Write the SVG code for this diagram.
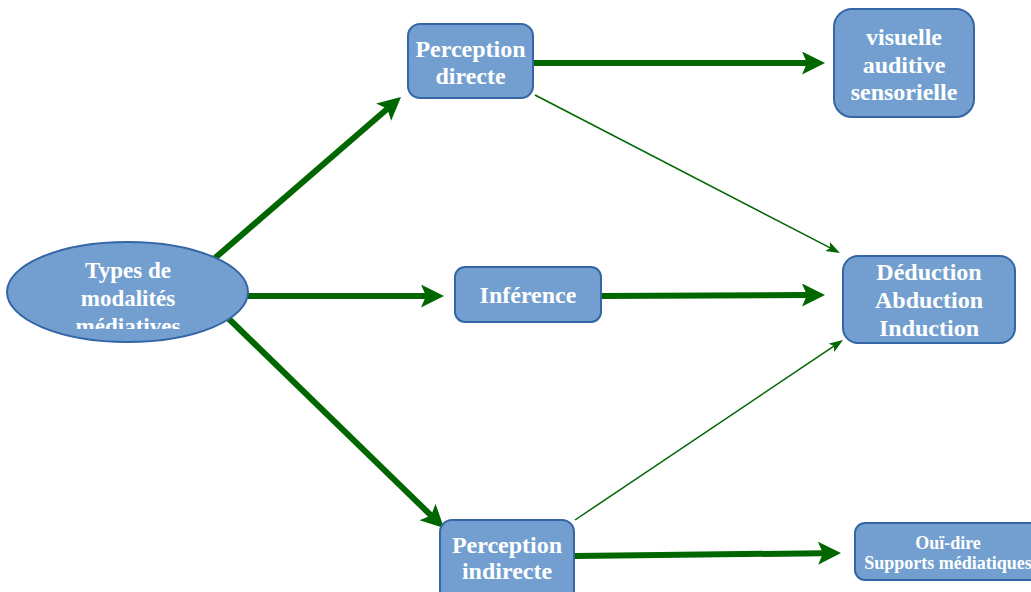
<svg xmlns="http://www.w3.org/2000/svg" width="1031" height="592" viewBox="0 0 1031 592">
  <defs>
    <style>
      .box { fill: #729fcf; stroke: #3465a4; stroke-width: 2; }
      .t { font-family: "Liberation Serif", "DejaVu Serif", serif; font-weight: bold; fill: #ffffff; text-anchor: middle; }
      .big { font-size: 24px; }
      .ell { font-size: 23px; }
      .small { font-size: 18px; }
      .thick { stroke: #006600; stroke-width: 6; fill: none; }
      .thin { stroke: #006600; stroke-width: 1.5; fill: none; }
    </style>
    <marker id="ah" markerUnits="userSpaceOnUse" markerWidth="24" markerHeight="24" refX="5" refY="11.5" orient="auto">
      <path d="M0,0 L23,11.5 L0,23 L5,11.5 z" fill="#006600"/>
    </marker>
    <marker id="ahs" markerUnits="userSpaceOnUse" markerWidth="16" markerHeight="12" refX="3" refY="5" orient="auto">
      <path d="M0,0 L14,5 L0,10 L3,5 z" fill="#006600"/>
    </marker>
    <clipPath id="ellclip">
      <rect x="0" y="240" width="260" height="89"/>
    </clipPath>
  </defs>

  <g id="connectors">
    <line class="thick" x1="215" y1="258" x2="387.4" y2="108.8" marker-end="url(#ah)"/>
    <line class="thick" x1="247" y1="296" x2="426" y2="296" marker-end="url(#ah)"/>
    <line class="thick" x1="228" y1="318" x2="431.1" y2="515.5" marker-end="url(#ah)"/>
    <line class="thick" x1="533" y1="63" x2="807" y2="63" marker-end="url(#ah)"/>
    <line class="thick" x1="600" y1="296" x2="807" y2="295" marker-end="url(#ah)"/>
    <line class="thick" x1="575" y1="556" x2="823" y2="553.2" marker-end="url(#ah)"/>
    <line class="thin" x1="535" y1="95" x2="830.2" y2="247.9" marker-end="url(#ahs)"/>
    <line class="thin" x1="575" y1="520" x2="833.9" y2="346.1" marker-end="url(#ahs)"/>
  </g>

  <g id="types">
    <ellipse class="box" cx="127.5" cy="292" rx="120.5" ry="50"/>
    <g clip-path="url(#ellclip)">
      <text class="t ell" x="128" y="278">Types de</text>
      <text class="t ell" x="128" y="306">modalités</text>
      <text class="t ell" x="128" y="334">médiatives</text>
    </g>
  </g>

  <g id="perception-directe">
    <rect class="box" x="408" y="24" width="125" height="74" rx="12"/>
    <text class="t big" x="470.5" y="57">Perception</text>
    <text class="t big" x="470.5" y="84">directe</text>
  </g>

  <g id="sens">
    <rect class="box" x="834" y="9" width="140" height="108" rx="18"/>
    <text class="t big" x="904" y="45">visuelle</text>
    <text class="t big" x="904" y="72.5">auditive</text>
    <text class="t big" x="904" y="100">sensorielle</text>
  </g>

  <g id="inference">
    <rect class="box" x="455" y="267" width="146" height="55" rx="10"/>
    <text class="t big" x="528" y="303">Inférence</text>
  </g>

  <g id="raisonnement">
    <rect class="box" x="843" y="256" width="172" height="87" rx="15"/>
    <text class="t big" x="929" y="280">Déduction</text>
    <text class="t big" x="929" y="308">Abduction</text>
    <text class="t big" x="929" y="336">Induction</text>
  </g>

  <g id="perception-indirecte">
    <rect class="box" x="440" y="520" width="134" height="90" rx="12"/>
    <text class="t big" x="507" y="553">Perception</text>
    <text class="t big" x="507" y="579">indirecte</text>
  </g>

  <g id="oui-dire">
    <rect class="box" x="855" y="523" width="186" height="57" rx="10"/>
    <text class="t small" x="948" y="549">Ouï-dire</text>
    <text class="t small" x="948" y="569">Supports médiatiques</text>
  </g>
</svg>
